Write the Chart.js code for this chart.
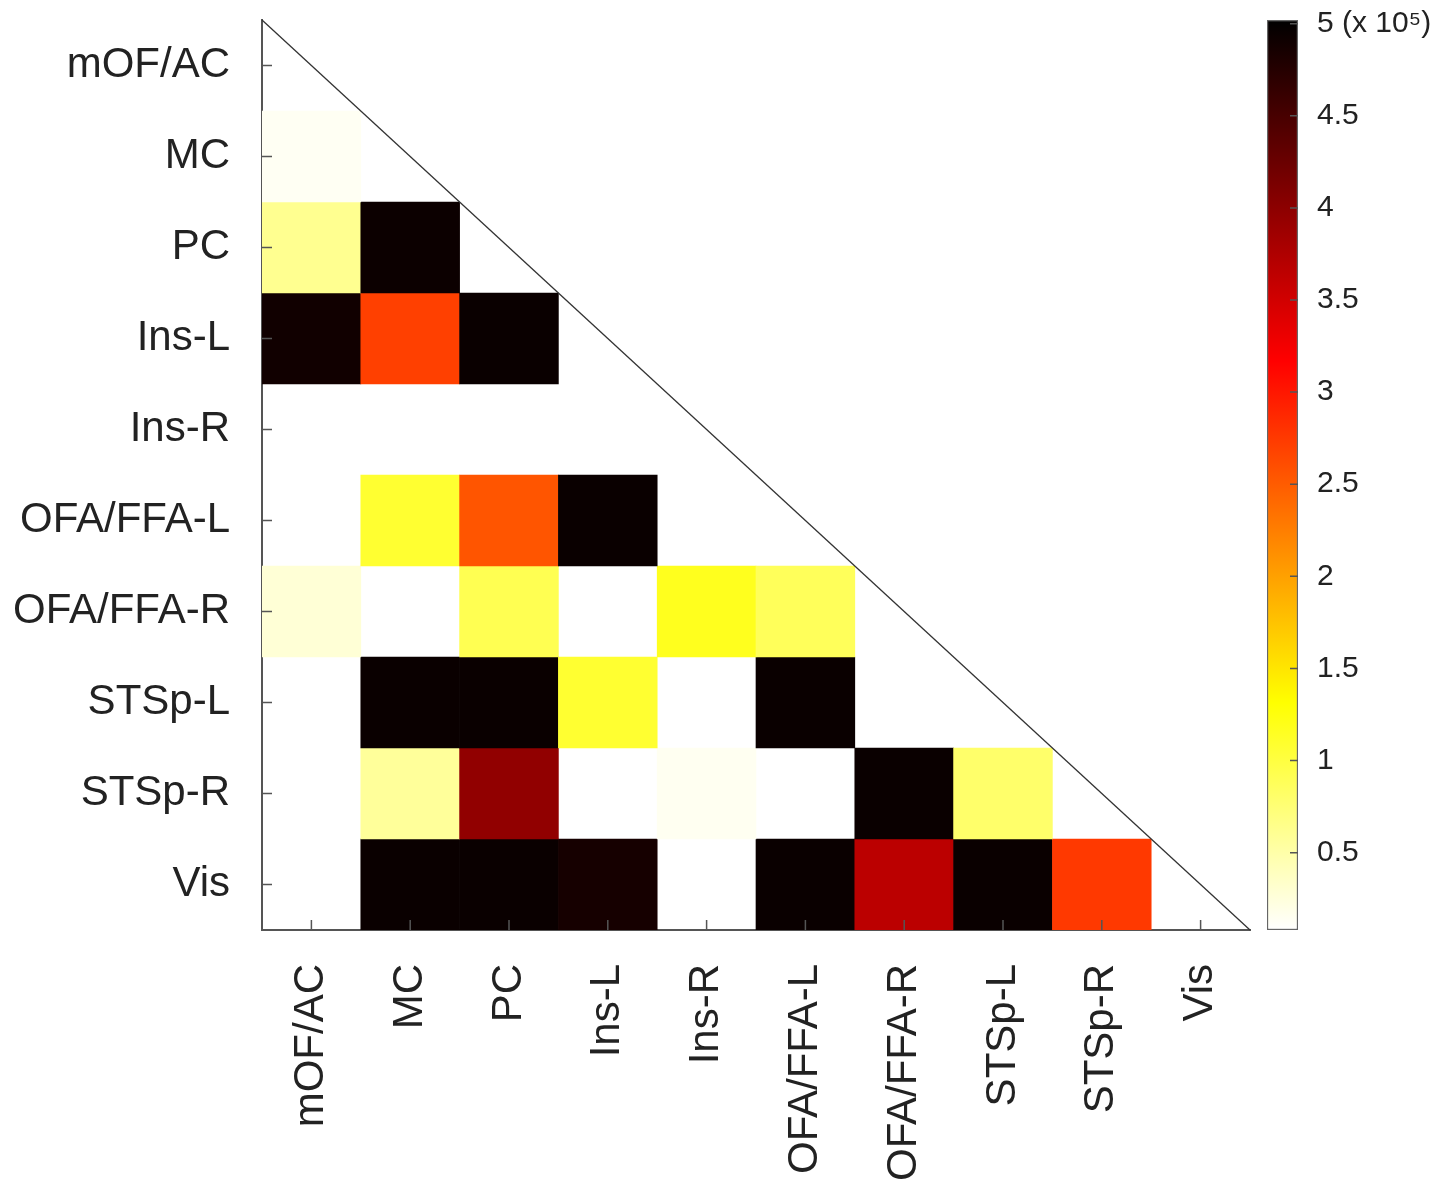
<!DOCTYPE html>
<html>
<head>
<meta charset="utf-8">
<script src="https://cdn.jsdelivr.net/npm/chart.js@4.4.1/dist/chart.umd.min.js"></script>
<style>
  html, body { margin: 0; padding: 0; background: #fff; }
  #main-wrap { position: absolute; left: 0; top: 0; width: 1260px; height: 1180px; }
  #bar-wrap { position: absolute; left: 1260px; top: 0; width: 189px; height: 1180px; }
</style>
</head>
<body>
<div id="main-wrap"><canvas id="HeatChart"></canvas></div>
<div id="bar-wrap"><canvas id="ColorBar"></canvas></div>
<script>
// regions (rows top->bottom, columns left->right)
const regions = ['mOF/AC', 'MC', 'PC', 'Ins-L', 'Ins-R', 'OFA/FFA-L', 'OFA/FFA-R', 'STSp-L', 'STSp-R', 'Vis'];

// values in units of 10^5, null = empty (white) cell
const rowMOF   = [null, null, null, null, null, null, null, null, null, null];
const rowMC    = [0.14, null, null, null, null, null, null, null, null, null];
const rowPC    = [0.62, 4.93, null, null, null, null, null, null, null, null];
const rowInsL  = [4.9, 2.7, 4.95, null, null, null, null, null, null, null];
const rowInsR  = [null, null, null, null, null, null, null, null, null, null];
const rowOFAL  = [null, 1.08, 2.55, 4.95, null, null, null, null, null, null];
const rowOFAR  = [0.28, null, 0.92, null, 1.17, 0.88, null, null, null, null];
const rowSTSpL = [null, 4.95, 4.95, 1.08, null, 4.95, null, null, null, null];
const rowSTSpR = [null, 0.57, 3.97, null, 0.15, null, 4.95, 0.8, null, null];
const rowVis   = [null, 4.95, 4.95, 4.86, null, 4.95, 3.66, 4.95, 2.75, null];
const allRows = [rowMOF, rowMC, rowPC, rowInsL, rowInsR, rowOFAL, rowOFAR, rowSTSpL, rowSTSpR, rowVis];

// colour bar
const cMin = 0.08;
const cMax = 5.02;
const barTicks = [0.5, 1, 1.5, 2, 2.5, 3, 3.5, 4, 4.5, 5];

const FONT = "'Liberation Sans', Arial, sans-serif";
const TXT = '#222';
const AXIS = '#555';

// reversed "hot" colormap: low = white, high = black
function hotRev(t){
    t = Math.max(0, Math.min(1, t));
    const s = 1 - t;
    const r = Math.min(1, s * 8 / 3);
    const g = Math.max(0, Math.min(1, (s - 3 / 8) * 8 / 3));
    const b = Math.max(0, Math.min(1, (s - 0.75) * 4));
    return 'rgb(' + Math.round(r * 255) + ',' + Math.round(g * 255) + ',' + Math.round(b * 255) + ')';
}
function colorFor(v){
    return hotRev((v - cMin) / (cMax - cMin));
}

// keep chart area fixed: drop the extra room scales ask for
function noScalePad(scale){
    scale.paddingTop = 0;
    scale.paddingBottom = 0;
    scale.paddingLeft = 0;
    scale.paddingRight = 0;
}

const datasets = allRows.map(function(vals, r){
    return {
        label: regions[r],
        data: vals.map(v => v == null ? null : [r, r + 1]),
        backgroundColor: vals.map(v => v == null ? 'rgba(0,0,0,0)' : colorFor(v)),
        borderWidth: 0,
        grouped: false,
        barPercentage: 1,
        categoryPercentage: 1
    };
});

// diagonal line + inward tick marks
const overlay = {
    id: 'overlay',
    afterDatasetsDraw(chart){
        const ctx = chart.ctx, a = chart.chartArea;
        const xs = chart.scales.x, ys = chart.scales.y;
        ctx.save();
        ctx.strokeStyle = '#333';
        ctx.lineWidth = 1.3;
        ctx.beginPath();
        ctx.moveTo(a.left, a.top);
        ctx.lineTo(a.right, a.bottom);
        ctx.stroke();

        ctx.strokeStyle = AXIS;
        ctx.lineWidth = 1.5;
        ctx.beginPath();
        for (let i = 0; i < regions.length; i++){
            const y = ys.getPixelForValue(i + 0.5);
            ctx.moveTo(a.left, y);
            ctx.lineTo(a.left + 10, y);
            const x = xs.getPixelForValue(i);
            ctx.moveTo(x, a.bottom);
            ctx.lineTo(x, a.bottom - 10);
        }
        ctx.stroke();
        ctx.restore();
    }
};

new Chart(document.getElementById('HeatChart'), {
    type: 'bar',
    data: { labels: regions, datasets: datasets },
    options: {
        responsive: true,
        maintainAspectRatio: false,
        animation: false,
        layout: { padding: { top: 20, right: 10, left: 0, bottom: 0 } },
        plugins: { legend: { display: false }, tooltip: { enabled: false } },
        scales: {
            x: {
                type: 'category',
                grid: { display: false, drawTicks: false },
                border: { display: true, color: AXIS, width: 2 },
                ticks: {
                    minRotation: 90, maxRotation: 90, padding: 34,
                    color: TXT, font: { family: FONT, size: 42 }
                },
                afterFit(scale){ scale.height = 250; noScalePad(scale); }
            },
            y: {
                type: 'linear',
                reverse: true,
                min: 0, max: 10,
                grid: { display: false, drawTicks: false },
                border: { display: true, color: AXIS, width: 2 },
                afterBuildTicks(scale){
                    scale.ticks = regions.map((_, i) => ({ value: i + 0.5 }));
                },
                ticks: {
                    padding: 32, color: TXT,
                    font: { family: FONT, size: 42 },
                    callback: v => regions[Math.floor(v)]
                },
                afterFit(scale){ scale.width = 262; noScalePad(scale); }
            }
        }
    },
    plugins: [overlay]
});

// colour bar
const barTickMarks = {
    id: 'barTickMarks',
    afterDatasetsDraw(chart){
        const ctx = chart.ctx, a = chart.chartArea, ys = chart.scales.y;
        ctx.save();
        ctx.strokeStyle = AXIS;
        ctx.lineWidth = 1.5;
        ctx.beginPath();
        barTicks.forEach(function(t){
            const y = ys.getPixelForValue(t);
            ctx.moveTo(a.right, y);
            ctx.lineTo(a.right - 8, y);
        });
        ctx.stroke();
        ctx.restore();
    }
};

new Chart(document.getElementById('ColorBar'), {
    type: 'bar',
    data: {
        labels: [''],
        datasets: [{
            data: [[cMin, cMax]],
            backgroundColor: function(c){
                const area = c.chart.chartArea;
                if (!area) return '#fff';
                const g = c.chart.ctx.createLinearGradient(0, area.bottom, 0, area.top);
                for (let i = 0; i <= 40; i++){
                    g.addColorStop(i / 40, hotRev(i / 40));
                }
                return g;
            },
            borderColor: '#666',
            borderWidth: 1.5,
            borderSkipped: false,
            barPercentage: 1,
            categoryPercentage: 1
        }]
    },
    options: {
        responsive: true,
        maintainAspectRatio: false,
        animation: false,
        layout: { padding: { top: 20, left: 7, right: 0, bottom: 250 } },
        plugins: { legend: { display: false }, tooltip: { enabled: false } },
        scales: {
            x: { display: false },
            y: {
                position: 'right',
                min: cMin, max: cMax,
                grid: { display: false, drawTicks: false },
                border: { display: false },
                afterBuildTicks(scale){
                    scale.ticks = barTicks.map(v => ({ value: v }));
                },
                ticks: {
                    padding: 19, color: TXT,
                    font: { family: FONT, size: 30 },
                    callback: v => v === 5 ? '5 (x 10\u2075)' : String(v)
                },
                afterFit(scale){ scale.width = 151; noScalePad(scale); }
            }
        }
    },
    plugins: [barTickMarks]
});
</script>
</body>
</html>
